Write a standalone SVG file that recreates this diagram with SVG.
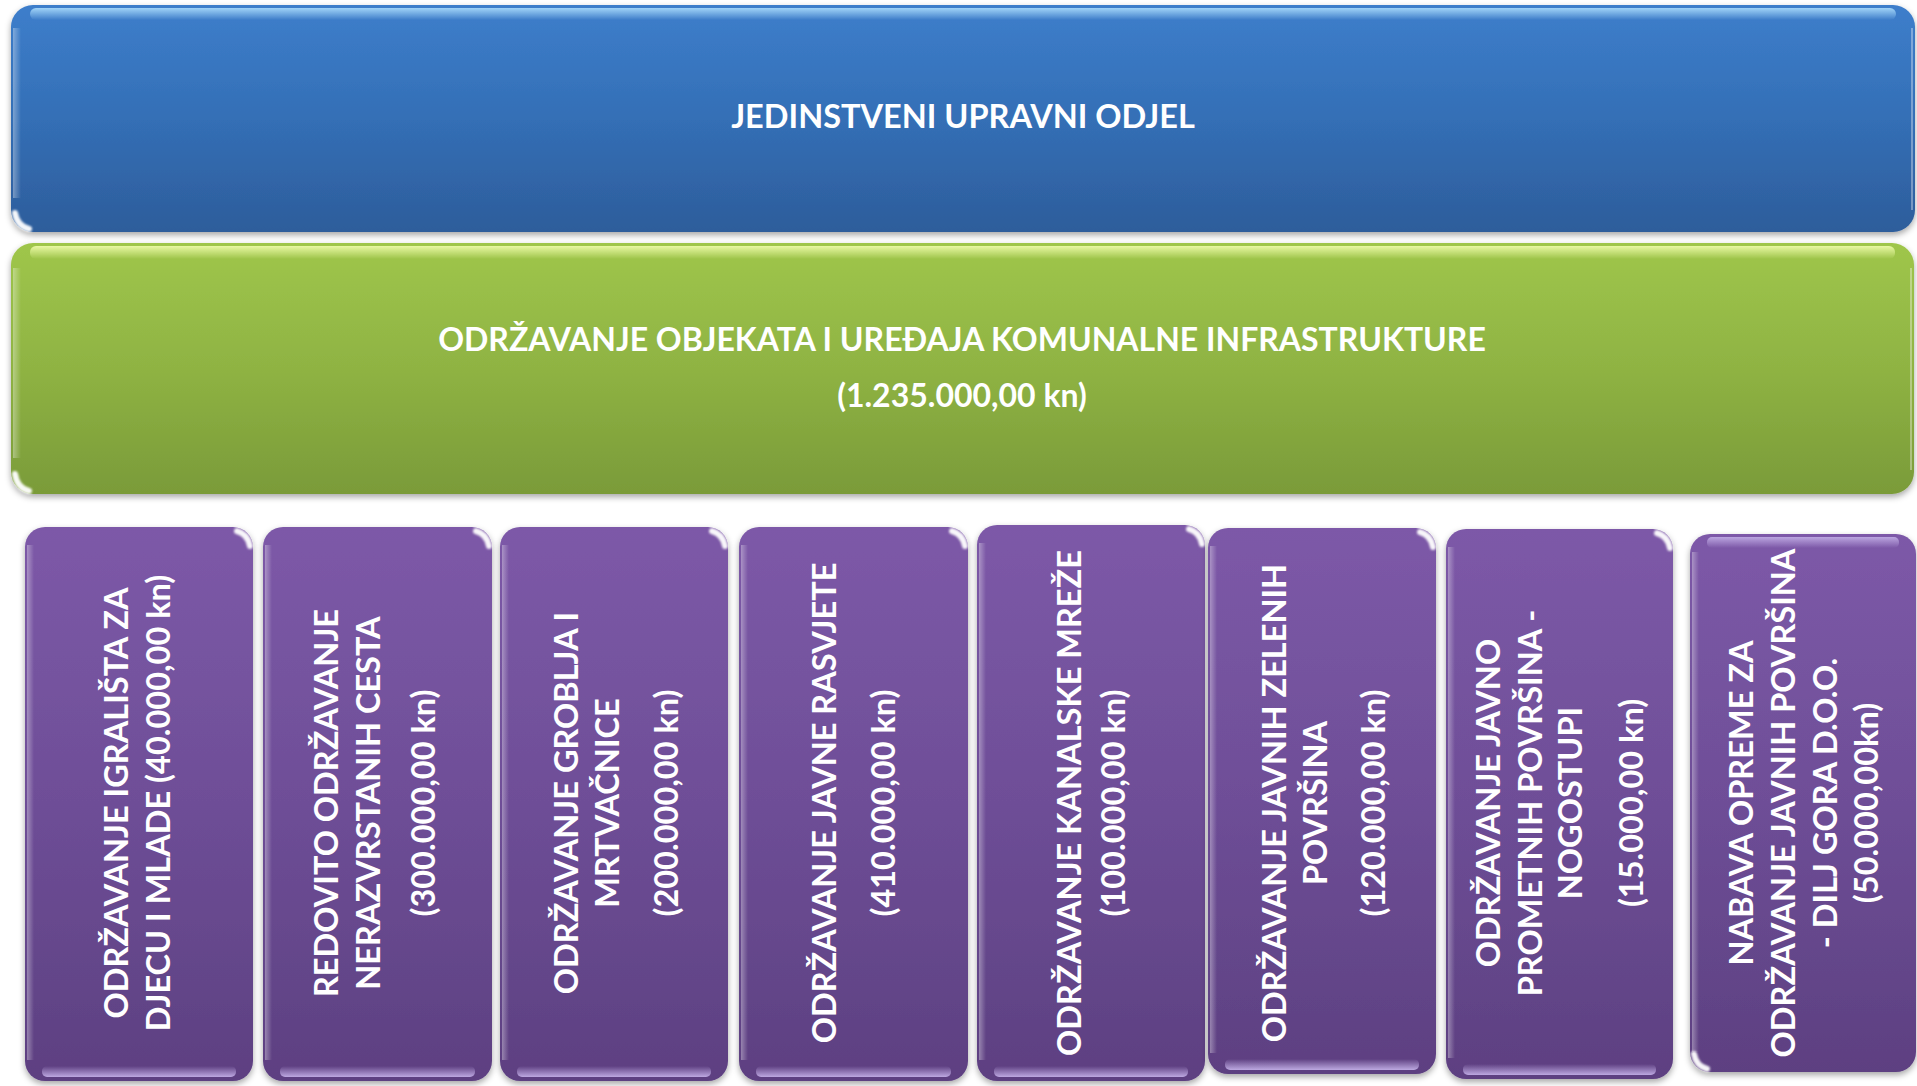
<svg xmlns="http://www.w3.org/2000/svg" width="1917" height="1086" viewBox="0 0 1917 1086">
<defs>
<linearGradient id="gBlue" x1="0" y1="0" x2="0" y2="1">
<stop offset="0" stop-color="#3D7ECB"/><stop offset="0.5" stop-color="#346FB6"/><stop offset="1" stop-color="#2D5D9B"/>
</linearGradient>
<linearGradient id="gGreen" x1="0" y1="0" x2="0" y2="1">
<stop offset="0" stop-color="#9FC64B"/><stop offset="0.5" stop-color="#8FB343"/><stop offset="1" stop-color="#7A9B39"/>
</linearGradient>
<linearGradient id="gPurple" x1="0" y1="0" x2="0" y2="1">
<stop offset="0" stop-color="#7D59A8"/><stop offset="0.5" stop-color="#6E4E97"/><stop offset="1" stop-color="#5D4081"/>
</linearGradient>
<linearGradient id="hlBlue" x1="0" y1="0" x2="0" y2="1">
<stop offset="0" stop-color="#A6D8FA" stop-opacity="0.95"/><stop offset="1" stop-color="#A6D8FA" stop-opacity="0"/>
</linearGradient>
<linearGradient id="hlGreen" x1="0" y1="0" x2="0" y2="1">
<stop offset="0" stop-color="#EDFBA8" stop-opacity="0.95"/><stop offset="1" stop-color="#EDFBA8" stop-opacity="0"/>
</linearGradient>
<linearGradient id="hlPurpleB" x1="0" y1="1" x2="0" y2="0">
<stop offset="0" stop-color="#C2AEE6" stop-opacity="0.95"/><stop offset="1" stop-color="#C2AEE6" stop-opacity="0"/>
</linearGradient>
<linearGradient id="hlPurpleT" x1="0" y1="0" x2="0" y2="1">
<stop offset="0" stop-color="#C2AEE6" stop-opacity="0.9"/><stop offset="1" stop-color="#C2AEE6" stop-opacity="0"/>
</linearGradient>
<linearGradient id="edgeL" x1="0" y1="0" x2="1" y2="0">
<stop offset="0" stop-color="#FFFFFF" stop-opacity="0.35"/><stop offset="1" stop-color="#FFFFFF" stop-opacity="0"/>
</linearGradient>
<filter id="shadow" x="-5%" y="-5%" width="110%" height="115%">
<feDropShadow dx="0" dy="3" stdDeviation="3" flood-color="#000" flood-opacity="0.35"/>
</filter>
<filter id="soft" x="-50%" y="-50%" width="200%" height="200%">
<feGaussianBlur stdDeviation="0.8"/>
</filter>
</defs>
<style>
.t{font-family:Lato,"Open Sans","Liberation Sans",sans-serif;font-weight:bold;fill:#FFFFFF;}
.big{font-size:32.5px;}
.mid{font-size:32px;}
.v{font-size:32.5px;}
.glare{fill:none;stroke:#FFFFFF;stroke-width:6;stroke-linecap:round;opacity:0.95;filter:url(#soft);}
.edge{fill:none;stroke:#FFFFFF;stroke-opacity:0.35;stroke-width:2;}
</style>
<rect x="0" y="0" width="1917" height="1086" fill="#FFFFFF"/>

<g id="connectors"></g>

<g id="node-jedinstveni">
<rect x="11" y="5" width="1904" height="227" rx="22" fill="url(#gBlue)" filter="url(#shadow)"/>
<rect x="30" y="8" width="1866" height="12" rx="6" fill="url(#hlBlue)"/>
<rect x="13" y="28" width="8" height="170" fill="url(#edgeL)"/>
<path class="edge" d="M1912,28 L1912,210"/>
<path class="glare" d="M15,213 Q17,226 29,229"/>
<text class="t big" x="963" y="128" text-anchor="middle">JEDINSTVENI UPRAVNI ODJEL</text>
</g>

<g id="node-odrzavanje">
<rect x="11" y="243" width="1903" height="251" rx="22" fill="url(#gGreen)" filter="url(#shadow)"/>
<rect x="30" y="246" width="1865" height="13" rx="6" fill="url(#hlGreen)"/>
<rect x="13" y="268" width="8" height="190" fill="url(#edgeL)"/>
<path class="edge" d="M1911,268 L1911,470"/>
<path class="glare" d="M15,474 Q17,488 29,491"/>
<text class="t mid" text-anchor="middle"><tspan x="962" y="351">ODRŽAVANJE OBJEKATA I UREĐAJA KOMUNALNE INFRASTRUKTURE</tspan><tspan x="962" y="407">(1.235.000,00 kn)</tspan></text>
</g>

<g id="node-igralista">
<rect x="25" y="527" width="228" height="554" rx="20" fill="url(#gPurple)" filter="url(#shadow)"/>
<rect x="42" y="1066" width="194" height="11" rx="5" fill="url(#hlPurpleB)"/>
<rect x="27" y="545" width="7" height="515" fill="url(#edgeL)"/>
<path class="glare" d="M237,531 Q248,534 250,546"/>
<text class="t v" transform="translate(0,803) rotate(-90)" text-anchor="middle"><tspan x="0" y="128">ODRŽAVANJE IGRALIŠTA ZA</tspan><tspan x="0" y="170">DJECU I MLADE (40.000,00 kn)</tspan></text>
</g>

<g id="node-ceste">
<rect x="263" y="527" width="229" height="554" rx="20" fill="url(#gPurple)" filter="url(#shadow)"/>
<rect x="280" y="1066" width="195" height="11" rx="5" fill="url(#hlPurpleB)"/>
<rect x="265" y="545" width="7" height="515" fill="url(#edgeL)"/>
<path class="glare" d="M476,531 Q487,534 489,546"/>
<text class="t v" transform="translate(0,803) rotate(-90)" text-anchor="middle"><tspan x="0" y="338">REDOVITO ODRŽAVANJE</tspan><tspan x="0" y="380">NERAZVRSTANIH CESTA</tspan><tspan x="0" y="435">(300.000,00 kn)</tspan></text>
</g>

<g id="node-groblje">
<rect x="500" y="527" width="228" height="554" rx="20" fill="url(#gPurple)" filter="url(#shadow)"/>
<rect x="517" y="1066" width="194" height="11" rx="5" fill="url(#hlPurpleB)"/>
<rect x="502" y="545" width="7" height="515" fill="url(#edgeL)"/>
<path class="glare" d="M712,531 Q723,534 725,546"/>
<text class="t v" transform="translate(0,803) rotate(-90)" text-anchor="middle"><tspan x="0" y="578">ODRŽAVANJE GROBLJA I</tspan><tspan x="0" y="619">MRTVAČNICE</tspan><tspan x="0" y="678">(200.000,00 kn)</tspan></text>
</g>

<g id="node-rasvjeta">
<rect x="739" y="527" width="229" height="554" rx="20" fill="url(#gPurple)" filter="url(#shadow)"/>
<rect x="756" y="1066" width="195" height="11" rx="5" fill="url(#hlPurpleB)"/>
<rect x="741" y="545" width="7" height="515" fill="url(#edgeL)"/>
<path class="glare" d="M952,531 Q963,534 965,546"/>
<text class="t v" transform="translate(0,803) rotate(-90)" text-anchor="middle"><tspan x="0" y="836">ODRŽAVANJE JAVNE RASVJETE</tspan><tspan x="0" y="895">(410.000,00 kn)</tspan></text>
</g>

<g id="node-kanalska">
<rect x="977" y="525" width="228" height="556" rx="20" fill="url(#gPurple)" filter="url(#shadow)"/>
<rect x="994" y="1066" width="194" height="11" rx="5" fill="url(#hlPurpleB)"/>
<rect x="979" y="543" width="7" height="517" fill="url(#edgeL)"/>
<path class="glare" d="M1189,529 Q1200,532 1202,544"/>
<text class="t v" transform="translate(0,803) rotate(-90)" text-anchor="middle"><tspan x="0" y="1081">ODRŽAVANJE KANALSKE MREŽE</tspan><tspan x="0" y="1125">(100.000,00 kn)</tspan></text>
</g>

<g id="node-zelene">
<rect x="1208" y="528" width="228" height="546" rx="20" fill="url(#gPurple)" filter="url(#shadow)"/>
<rect x="1225" y="1059" width="194" height="11" rx="5" fill="url(#hlPurpleB)"/>
<rect x="1210" y="546" width="7" height="507" fill="url(#edgeL)"/>
<path class="glare" d="M1420,532 Q1431,535 1433,547"/>
<text class="t v" transform="translate(0,803) rotate(-90)" text-anchor="middle"><tspan x="0" y="1286">ODRŽAVANJE JAVNIH ZELENIH</tspan><tspan x="0" y="1327">POVRŠINA</tspan><tspan x="0" y="1385">(120.000,00 kn)</tspan></text>
</g>

<g id="node-nogostupi">
<rect x="1446" y="529" width="227" height="550" rx="20" fill="url(#gPurple)" filter="url(#shadow)"/>
<rect x="1463" y="1064" width="193" height="11" rx="5" fill="url(#hlPurpleB)"/>
<rect x="1448" y="547" width="7" height="511" fill="url(#edgeL)"/>
<path class="glare" d="M1657,533 Q1668,536 1670,548"/>
<text class="t v" transform="translate(0,803) rotate(-90)" text-anchor="middle"><tspan x="0" y="1500">ODRŽAVANJE JAVNO</tspan><tspan x="0" y="1542">PROMETNIH POVRŠINA -</tspan><tspan x="0" y="1582">NOGOSTUPI</tspan><tspan x="0" y="1643">(15.000,00 kn)</tspan></text>
</g>

<g id="node-nabava">
<rect x="1690" y="534" width="226" height="538" rx="20" fill="url(#gPurple)" filter="url(#shadow)"/>
<rect x="1707" y="537" width="192" height="11" rx="5" fill="url(#hlPurpleT)"/>
<rect x="1692" y="552" width="7" height="500" fill="url(#edgeL)"/>
<path class="glare" d="M1694,1054 Q1696,1066 1707,1069"/>
<text class="t v" transform="translate(0,803) rotate(-90)" text-anchor="middle"><tspan x="0" y="1753">NABAVA OPREME ZA</tspan><tspan x="0" y="1795">ODRŽAVANJE JAVNIH POVRŠINA</tspan><tspan x="0" y="1837">- DILJ GORA D.O.O.</tspan><tspan x="0" y="1878">(50.000,00kn)</tspan></text>
</g>
</svg>
